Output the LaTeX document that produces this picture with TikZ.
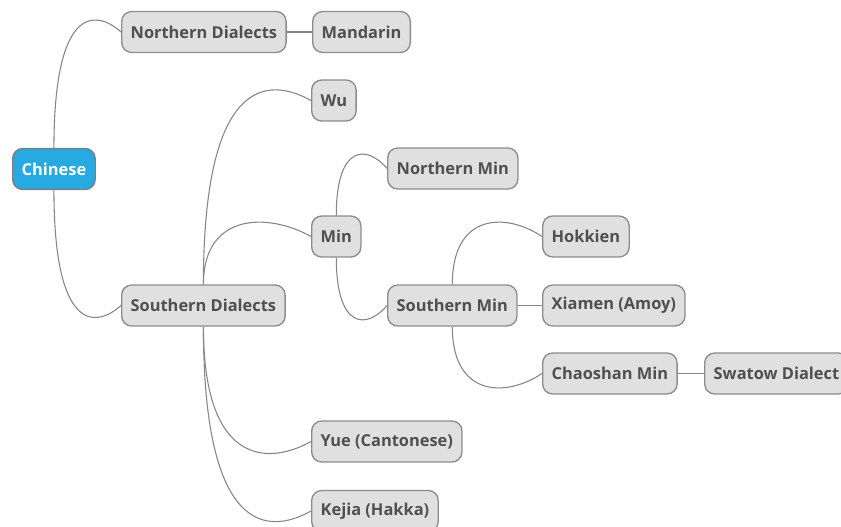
\documentclass[tikz,border=0pt]{standalone}
\usepackage{fontspec}
\setmainfont{Open Sans}
\usetikzlibrary{calc}
\definecolor{boxfill}{HTML}{E0E0E0}
\definecolor{boxline}{HTML}{8C8C8C}
\definecolor{boxtext}{HTML}{505050}
\definecolor{rootfill}{HTML}{27A9E1}
\definecolor{conncol}{HTML}{858585}
\tikzset{
  topic/.style={draw=boxline, line width=1pt, fill=boxfill, rounded corners=7.5pt,
    minimum height=30.75pt, inner xsep=6.75pt, inner ysep=0pt, anchor=west,
    text=boxtext, font=\bfseries\fontsize{12.3}{14}\selectfont},
  roottopic/.style={topic, fill=rootfill, draw=boxline!90!black, text=white},
  conn/.style={draw=conncol, line width=0.8pt},
}
\newcommand\upcurve[2]{\draw[conn] (#1.north) .. controls ($(#1.north |- #2.west)+(0,-24)$) and ($($(#1.north |- #2.west)!0.6!(#2.west)$)+(0,-24)$) .. (#2.west);}
\newcommand\downcurve[2]{\draw[conn] (#1.south) .. controls ($(#1.south |- #2.west)+(0,24)$) and ($($(#1.south |- #2.west)!0.6!(#2.west)$)+(0,24)$) .. (#2.west);}
\begin{document}
\begin{tikzpicture}[x=0.75pt,y=-0.75pt]
\useasboundingbox (0,0) rectangle (841,527);
\node[roottopic] (chinese) at (12,169) {Chinese};
\node[topic] (nd) at (121,32) {Northern Dialects};
\node[topic] (mandarin) at (312,32) {Mandarin};
\node[topic] (wu) at (311,100.5) {Wu};
\node[topic] (nmin) at (387,168.5) {Northern Min};
\node[topic] (min) at (311,236.5) {Min};
\node[topic] (sd) at (121,305.5) {Southern Dialects};
\node[topic] (smin) at (387,305.5) {Southern Min};
\node[topic] (hokkien) at (542,236.5) {Hokkien};
\node[topic] (xiamen) at (542,305.5) {Xiamen (Amoy)};
\node[topic] (chaoshan) at (542,373.5) {Chaoshan Min};
\node[topic] (swatow) at (704,373.5) {Swatow Dialect};
\node[topic] (yue) at (311,441.5) {Yue (Cantonese)};
\node[topic] (kejia) at (311,511) {Kejia (Hakka)};
\upcurve{chinese}{nd}
\downcurve{chinese}{sd}
\draw[conn] (nd.east) -- (mandarin.west);
\upcurve{sd}{wu}
\upcurve{sd}{min}
\downcurve{sd}{yue}
\downcurve{sd}{kejia}
\upcurve{min}{nmin}
\downcurve{min}{smin}
\upcurve{smin}{hokkien}
\draw[conn] (smin.east) -- (xiamen.west);
\downcurve{smin}{chaoshan}
\draw[conn] (chaoshan.east) -- (swatow.west);
\end{tikzpicture}
\end{document}
